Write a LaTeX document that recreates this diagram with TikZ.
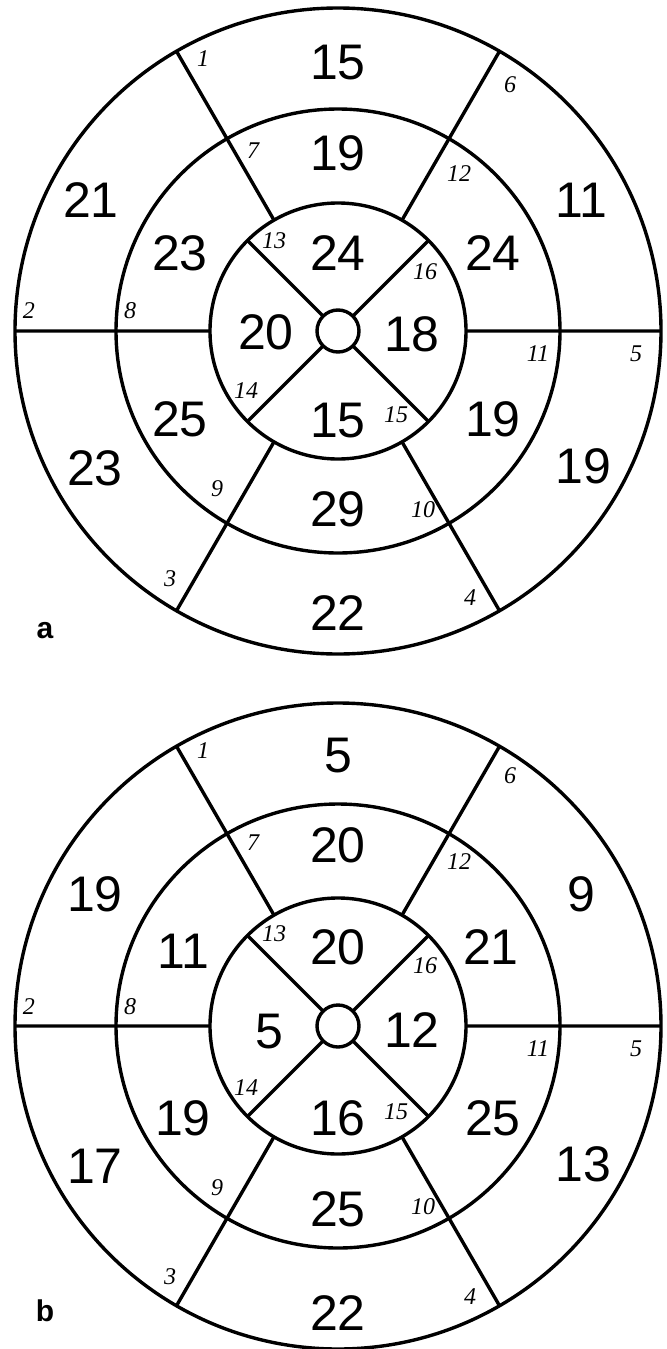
\documentclass[tikz,border=0pt]{standalone}
\usepackage{fontspec}
\setmainfont{Liberation Sans}
\newfontfamily\segserif{Liberation Serif}
\tikzset{
  every picture/.style={line width=1.7pt},
  ring/.style={draw=black, line width=1.7pt},
  score/.style={font=\fontsize{25}{25}\selectfont, inner sep=0pt},
  segno/.style={font=\segserif\itshape\fontsize{12}{12}\selectfont, inner sep=0pt},
  panel/.style={font=\bfseries\fontsize{15}{15}\selectfont, inner sep=0pt},
}

\begin{document}
\begin{tikzpicture}[x=0.5pt, y=0.5pt]
  \useasboundingbox (0,0) rectangle (666,-1349);
  % panel a
  \begin{scope}[shift={(338,-331)}]
    \draw[ring] (0,0) circle[radius=323] (0,0) circle[radius=222] (0,0) circle[radius=128];
    \draw[ring] (0:128) -- (0:323) (60:128) -- (60:323) (120:128) -- (120:323)
      (180:128) -- (180:323) (240:128) -- (240:323) (300:128) -- (300:323);
    \draw[ring] (45:21) -- (45:128) (135:21) -- (135:128) (225:21) -- (225:128) (315:21) -- (315:128);
    \draw[ring, fill=white] (0,0) circle[radius=21];
    \node[score] (a-v1) at (0,268) {15};
    \node[score] (a-v2) at (-247,131) {21};
    \node[score] (a-v3) at (-243,-137) {23};
    \node[score] (a-v4) at (0,-282) {22};
    \node[score] (a-v5) at (245,-135) {19};
    \node[score] (a-v6) at (243,131) {11};
    \node[score] (a-v7) at (0,178) {19};
    \node[score] (a-v8) at (-158,78) {23};
    \node[score] (a-v9) at (-158,-88) {25};
    \node[score] (a-v10) at (0,-178) {29};
    \node[score] (a-v11) at (155,-88) {19};
    \node[score] (a-v12) at (155,78) {24};
    \node[score] (a-v13) at (0,78) {24};
    \node[score] (a-v14) at (-72,-1) {20};
    \node[score] (a-v15) at (0,-90) {15};
    \node[score] (a-v16) at (74,-3) {18};
    \node[segno] (a-s1) at (-135,272) {1};
    \node[segno] (a-s2) at (-309,20) {2};
    \node[segno] (a-s3) at (-168,-248) {3};
    \node[segno] (a-s4) at (132,-267) {4};
    \node[segno] (a-s5) at (298,-23) {5};
    \node[segno] (a-s6) at (172,246) {6};
    \node[segno] (a-s7) at (-85,180) {7};
    \node[segno] (a-s8) at (-208,20) {8};
    \node[segno] (a-s9) at (-121,-158) {9};
    \node[segno] (a-s10) at (85,-179) {10};
    \node[segno] (a-s11) at (200,-23) {11};
    \node[segno] (a-s12) at (121,157) {12};
    \node[segno] (a-s13) at (-64,90) {13};
    \node[segno] (a-s14) at (-92,-60) {14};
    \node[segno] (a-s15) at (58,-84) {15};
    \node[segno] (a-s16) at (87,59) {16};
  \end{scope}
  \node[panel] (lbl-a) at (45,-631) {a};
  % panel b
  \begin{scope}[shift={(338,-1026)}]
    \draw[ring] (0,0) circle[radius=323] (0,0) circle[radius=222] (0,0) circle[radius=128];
    \draw[ring] (0:128) -- (0:323) (60:128) -- (60:323) (120:128) -- (120:323)
      (180:128) -- (180:323) (240:128) -- (240:323) (300:128) -- (300:323);
    \draw[ring] (45:21) -- (45:128) (135:21) -- (135:128) (225:21) -- (225:128) (315:21) -- (315:128);
    \draw[ring, fill=white] (0,0) circle[radius=21];
    \node[score] (b-v1) at (0,270) {5};
    \node[score] (b-v2) at (-243,132) {19};
    \node[score] (b-v3) at (-243,-140) {17};
    \node[score] (b-v4) at (0,-287) {22};
    \node[score] (b-v5) at (245,-138) {13};
    \node[score] (b-v6) at (243,132) {9};
    \node[score] (b-v7) at (0,181) {20};
    \node[score] (b-v8) at (-155,75) {11};
    \node[score] (b-v9) at (-155,-92) {19};
    \node[score] (b-v10) at (0,-183) {25};
    \node[score] (b-v11) at (155,-92) {25};
    \node[score] (b-v12) at (153,79) {21};
    \node[score] (b-v13) at (0,79) {20};
    \node[score] (b-v14) at (-69,-6) {5};
    \node[score] (b-v15) at (0,-92) {16};
    \node[score] (b-v16) at (74,-4) {12};
    \node[segno] (b-s1) at (-135,275) {1};
    \node[segno] (b-s2) at (-309,19) {2};
    \node[segno] (b-s3) at (-168,-251) {3};
    \node[segno] (b-s4) at (132,-271) {4};
    \node[segno] (b-s5) at (298,-23) {5};
    \node[segno] (b-s6) at (172,250) {6};
    \node[segno] (b-s7) at (-85,183) {7};
    \node[segno] (b-s8) at (-208,19) {8};
    \node[segno] (b-s9) at (-121,-162) {9};
    \node[segno] (b-s10) at (85,-181) {10};
    \node[segno] (b-s11) at (200,-23) {11};
    \node[segno] (b-s12) at (121,164) {12};
    \node[segno] (b-s13) at (-64,92) {13};
    \node[segno] (b-s14) at (-92,-62) {14};
    \node[segno] (b-s15) at (58,-86) {15};
    \node[segno] (b-s16) at (87,60) {16};
  \end{scope}
  \node[panel] (lbl-b) at (45,-1311) {b};
\end{tikzpicture}
\end{document}
